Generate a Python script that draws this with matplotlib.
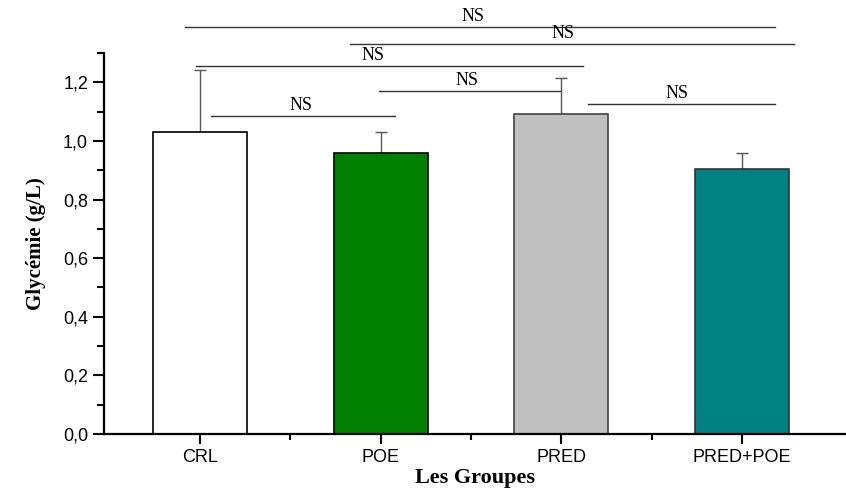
import matplotlib.pyplot as plt
from matplotlib.ticker import MultipleLocator, FixedLocator, FuncFormatter

groups = ['CRL', 'POE', 'PRED', 'PRED+POE']
glycemie = [1.030, 0.958, 1.091, 0.904]
sem = [0.211, 0.072, 0.123, 0.054]
bar_colors = ['white', '#007F00', '#C0C0C0', '#008080']
edge_colors = ['black', 'black', '#444444', '#333333']

# pairwise comparisons: (x start, x end, height, label x, label)
comparisons = [
    (-0.08, 3.18, 1.388, 1.51, 'NS'),
    (0.83, 3.29, 1.330, 2.01, 'NS'),
    (-0.02, 2.12, 1.255, 0.96, 'NS'),
    (0.99, 1.99, 1.169, 1.48, 'NS'),
    (0.06, 1.08, 1.084, 0.56, 'NS'),
    (2.15, 3.18, 1.125, 2.64, 'NS'),
]

fig = plt.figure(figsize=(8.46, 4.92), dpi=100)
ax = fig.add_axes([104 / 846, 1 - 434 / 492, 1 - 104 / 846, (434 - 53) / 492])

x = range(len(groups))
ax.bar(x, glycemie, width=0.52, color=bar_colors, edgecolor=edge_colors,
       linewidth=1.2, zorder=2)
eb = ax.errorbar(x, glycemie, yerr=[[0] * len(sem), sem], fmt='none',
                 ecolor='#555555', elinewidth=1.0, capsize=4, capthick=1.0,
                 zorder=1)
for cap in eb[1]:
    cap.set_color('#999999')

for x0, x1, h, lx, txt in comparisons:
    ax.plot([x0, x1], [h, h], color='#333333', lw=1.0, clip_on=False)
    ax.text(lx, h + 0.008, txt, ha='center', va='bottom', fontsize=13,
            family='Liberation Serif', clip_on=False)

ax.set_xlim(-0.53, 3.575)
ax.set_ylim(0, 1.3)
ax.set_xticks(list(x))
ax.set_xticklabels(groups, family='Liberation Sans', fontsize=13)
ax.xaxis.set_minor_locator(FixedLocator([0.5, 1.5, 2.5]))
ax.yaxis.set_major_locator(MultipleLocator(0.2))
ax.yaxis.set_minor_locator(MultipleLocator(0.1))
ax.yaxis.set_major_formatter(FuncFormatter(lambda v, p: f'{v:.1f}'.replace('.', ',')))
for lbl in ax.get_yticklabels():
    lbl.set_family('Liberation Sans')
    lbl.set_fontsize(13)

ax.tick_params(axis='both', which='major', direction='out', length=8, width=1.5)
ax.tick_params(axis='both', which='minor', direction='out', length=5, width=1.5)
ax.tick_params(axis='x', which='major', length=7)
ax.tick_params(axis='x', which='minor', length=4)

for side in ['top', 'right']:
    ax.spines[side].set_visible(False)
for side in ['left', 'bottom']:
    ax.spines[side].set_linewidth(1.6)

ax.set_ylabel('Glycémie (g/L)', family='Liberation Serif', fontweight='bold',
              fontsize=15, labelpad=12)
ax.set_xlabel('Les Groupes', family='Liberation Serif', fontweight='bold',
              fontsize=16, labelpad=2)

fig.savefig('out.png', dpi=100)
